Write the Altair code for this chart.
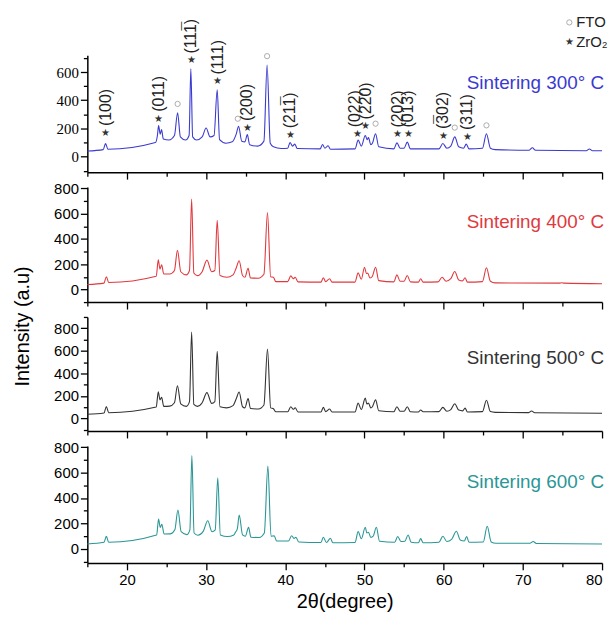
import altair as alt
import pandas as pd

# ---------------- data ----------------
two_theta_300 = [15.0, 17.0, 17.3, 17.6, 23.6, 23.85, 24.0, 24.2, 24.37, 24.6, 25.3, 26.0, 26.4, 26.75,
                 27.4, 27.85, 28.07, 28.3, 28.8, 29.5, 30.0, 30.5, 31.0, 31.4, 31.7, 32.5, 33.3, 33.8,
                 34.1, 34.5, 34.9, 35.2, 35.5, 36.5, 37.3, 37.7, 38.1, 38.5, 39.5, 40.3, 40.6, 40.9,
                 41.2, 41.5, 44.4, 44.7, 45.0, 45.4, 45.7, 48.8, 49.2, 49.6, 50.1, 50.35, 50.5, 50.8,
                 51.0, 51.4, 51.8, 53.7, 54.1, 54.5, 55.0, 55.4, 55.8, 59.4, 59.9, 60.4, 60.9, 61.4,
                 61.9, 62.5, 62.85, 63.2, 64.9, 65.4, 65.9, 66.5, 70.8, 71.2, 71.6, 78.0, 78.4, 78.8, 80.0]
intensity_300 = [40, 50, 93, 52, 100, 150, 220, 160, 192, 125, 118, 150, 311, 140,
                 118, 150, 624, 140, 118, 140, 203, 140, 150, 474, 120, 95, 105, 160,
                 215, 110, 105, 156, 85, 75, 110, 650, 95, 70, 58, 60, 100, 75,
                 89, 58, 55, 86, 60, 77, 53, 55, 117, 75, 150, 120, 135, 85,
                 95, 163, 70, 55, 98, 60, 60, 103, 55, 55, 93, 60, 75, 140,
                 70, 60, 89, 55, 60, 163, 60, 50, 46, 63, 45, 42, 54, 42, 42]

two_theta_400 = [15.0, 17.1, 17.4, 17.7, 23.7, 23.96, 24.17, 24.38, 24.65, 25.4, 26.0, 26.38, 26.8,
                 27.5, 27.9, 28.17, 28.45, 28.9, 29.5, 30.1, 30.7, 31.1, 31.4, 31.75, 32.6, 33.4, 33.8,
                 34.17, 34.6, 34.9, 35.3, 35.6, 36.6, 37.3, 37.75, 38.15, 38.5, 38.8, 40.3, 40.7, 41.0,
                 41.25, 41.6, 44.5, 44.8, 45.1, 45.6, 45.9, 48.8, 49.2, 49.6, 50.0, 50.25, 50.4, 50.7,
                 51.0, 51.4, 51.8, 53.7, 54.1, 54.5, 55.0, 55.4, 55.8, 56.8, 57.1, 57.4, 59.3, 59.8,
                 60.3, 60.9, 61.4, 61.9, 62.4, 62.7, 63.0, 64.9, 65.4, 65.9, 66.5, 74.6, 74.9, 75.2, 80.0]
intensity_400 = [39, 50, 101, 55, 104, 234, 161, 195, 122, 122, 150, 310, 140,
                 115, 150, 716, 130, 109, 140, 232, 140, 150, 547, 110, 96, 115, 170,
                 227, 110, 96, 167, 91, 89, 120, 609, 100, 96, 62, 62, 107, 85,
                 96, 60, 58, 92, 62, 84, 58, 58, 131, 80, 176, 125, 129, 90,
                 105, 176, 70, 60, 115, 65, 65, 110, 60, 58, 84, 58, 60, 97,
                 65, 85, 142, 75, 68, 92, 58, 62, 171, 65, 52, 50, 53, 50, 45]

two_theta_500 = [15.0, 17.1, 17.4, 17.7, 23.7, 23.96, 24.17, 24.38, 24.65, 25.4, 26.0, 26.38, 26.8,
                 27.5, 27.9, 28.17, 28.45, 28.9, 29.5, 30.1, 30.7, 31.1, 31.4, 31.75, 32.6, 33.4, 33.8,
                 34.17, 34.6, 34.9, 35.3, 35.6, 36.6, 37.3, 37.75, 38.15, 38.5, 38.8, 40.3, 40.7, 41.0,
                 41.25, 41.6, 44.5, 44.8, 45.1, 45.6, 45.9, 48.8, 49.2, 49.6, 50.1, 50.3, 50.5, 50.8,
                 51.0, 51.4, 51.8, 53.7, 54.1, 54.5, 55.0, 55.4, 55.8, 56.8, 57.1, 57.4, 59.4, 59.9,
                 60.4, 60.9, 61.4, 61.9, 62.4, 62.7, 63.0, 64.9, 65.4, 65.9, 66.5, 70.7, 71.1, 71.5, 80.0]
intensity_500 = [38, 49, 107, 52, 102, 238, 166, 189, 108, 110, 140, 291, 130,
                 108, 150, 767, 125, 108, 140, 230, 135, 150, 596, 105, 95, 115, 175,
                 235, 105, 95, 177, 90, 85, 120, 616, 95, 87, 60, 60, 105, 82,
                 96, 58, 58, 99, 62, 85, 58, 58, 137, 80, 181, 130, 137, 95,
                 105, 166, 70, 60, 105, 65, 65, 105, 60, 58, 76, 60, 62, 99,
                 65, 80, 131, 75, 68, 93, 58, 62, 163, 62, 55, 53, 67, 52, 47]

two_theta_600 = [15.0, 17.1, 17.4, 17.7, 23.75, 24.0, 24.2, 24.4, 24.7, 25.5, 26.05, 26.44, 26.85,
                 27.55, 27.95, 28.2, 28.48, 28.95, 29.65, 30.2, 30.75, 31.15, 31.47, 31.8, 32.7, 33.5,
                 33.7, 33.95, 34.18, 34.6, 34.95, 35.36, 35.66, 36.7, 37.35, 37.8, 38.2, 38.6, 38.9,
                 40.4, 40.8, 41.1, 41.34, 41.7, 44.5, 44.8, 45.2, 45.7, 46.0, 48.8, 49.2, 49.6, 50.1,
                 50.3, 50.5, 50.8, 51.1, 51.5, 51.9, 53.8, 54.2, 54.6, 55.1, 55.5, 55.9, 56.8, 57.1,
                 57.4, 59.4, 59.9, 60.4, 61.0, 61.6, 62.1, 62.6, 62.9, 63.2, 65.0, 65.5, 66.0, 66.6,
                 70.9, 71.3, 71.7, 80.0]
intensity_600 = [39, 52, 99, 52, 109, 234, 169, 193, 117, 118, 150, 305, 135,
                 112, 150, 734, 125, 108, 140, 221, 135, 150, 560, 110, 97, 110,
                 130, 160, 266, 110, 100, 169, 92, 90, 125, 651, 100, 104, 62,
                 62, 104, 82, 91, 55, 50, 92, 50, 84, 48, 50, 136, 80, 170,
                 125, 131, 90, 100, 170, 60, 52, 97, 58, 60, 110, 52, 48, 81,
                 48, 52, 100, 58, 75, 139, 70, 62, 97, 52, 55, 178, 55, 45,
                 44, 58, 43, 39]

# ZrO2 reflections (stars) marked on the 300 °C pattern
star_two_theta = [17.3, 24.0, 28.1, 31.4, 35.2, 40.6, 49.15, 50.15, 54.2, 55.5, 59.93, 63.0]
star_intensity = [168, 269, 682, 533, 203, 152, 159, 215, 157, 157, 147, 140]
label_two_theta = [17.3, 24.05, 28.15, 31.45, 35.2, 40.6, 48.75, 50.15, 54.2, 55.5, 59.93, 63.0]
star_labels = ["(100)", "(011)", "(111)", "(111)", "(200)", "(211)",
               "(022)", "(220)", "(202)", "(013)", "(302)", "(311)"]
# Miller indices carrying an overbar: label, and which character of it is barred
bar_label_index = [2, 5, 10]
bar_char_pos = [3, 3, 1]

# FTO reflections (open circles)
fto_two_theta = [26.4, 34.0, 37.7, 51.4, 61.4, 65.4]
fto_intensity = [374, 269, 713, 234, 206, 222]

legend_texts = ["FTO", "ZrO\u2082"]

series_names = ["Sintering 300\u00b0 C", "Sintering 400\u00b0 C", "Sintering 500\u00b0 C", "Sintering 600\u00b0 C"]
series_colors = ["#3a3ad0", "#e0393e", "#333333", "#2a9696"]

# ---------------- layout / style ----------------
W = 519
HEIGHTS = [118, 116, 115, 118]
Y_DOMAINS = [[-110, 720], [-100, 810], [-110, 900], [-110, 810]]
Y_TOPS = [700, 800, 900, 800]
LABEL_Y = [28, 35, 41, 36]
SANS = "Liberation Sans"
LABEL_FS = 16
LABEL_GAP = 7

x_vals = list(range(15, 81, 5))


def major_size(step, big, small):
    return {"condition": {"test": f"datum.value % {step} === 0", "value": big}, "value": small}


def x_axis(show_labels):
    kw = dict(values=x_vals, grid=False, domainColor="black", domainWidth=1.5,
              tickColor="black", tickWidth=1.3, tickSize=major_size(10, 7, 4))
    if show_labels:
        kw.update(labelExpr="datum.value % 10 === 0 ? datum.label : ''", labelFont=SANS,
                  labelFontSize=15, labelColor="black", labelPadding=3,
                  title="2\u03b8(degree)", titleFont=SANS, titleFontSize=20,
                  titleFontWeight="normal", titleColor="black", titlePadding=4)
    else:
        kw.update(labels=False, title=None)
    return alt.Axis(**kw)


def y_axis(top, serif=False, with_title=False):
    kw = dict(values=list(range(-100, top + 1, 100)), grid=False,
              labelExpr="datum.value % 200 === 0 ? datum.label : ''",
              labelFont="Liberation Serif" if serif else SANS, labelFontSize=15,
              labelColor="black", labelPadding=2,
              domainColor="black", domainWidth=1.5, tickColor="black", tickWidth=1.3,
              tickSize=major_size(200, 7, 4))
    if with_title:
        kw.update(title="Intensity (a.u)", titleFont=SANS, titleFontSize=20,
                  titleFontWeight="normal", titleColor="black", titleAngle=270,
                  titleX=-65, titleY=9, titleAlign="center", titleBaseline="middle")
    else:
        kw.update(title=None)
    return alt.Axis(**kw)


def encodings(i, show_x_labels=False, serif=False, with_title=False):
    xenc = alt.X("two_theta:Q", scale=alt.Scale(domain=[15, 80], nice=False, zero=False),
                 axis=x_axis(show_x_labels))
    yenc = alt.Y("intensity:Q", scale=alt.Scale(domain=Y_DOMAINS[i], nice=False, zero=False),
                 axis=y_axis(Y_TOPS[i], serif, with_title))
    return xenc, yenc


def panel(i, xs, ys, xenc, yenc, extra=None):
    df = pd.DataFrame({"two_theta": xs, "intensity": ys})
    line = alt.Chart(df).mark_line(color=series_colors[i], strokeWidth=1.1,
                                   interpolate="monotone").encode(x=xenc, y=yenc)
    lab = alt.Chart(pd.DataFrame({"t": [series_names[i]]})).mark_text(
        align="right", baseline="middle", font=SANS, fontSize=19,
        color=series_colors[i]).encode(text="t:N", x=alt.value(W + 2), y=alt.value(LABEL_Y[i]))
    layers = [line, lab]
    if extra:
        layers += extra
    return alt.layer(*layers).properties(width=W, height=HEIGHTS[i])


# ---------------- panel 1 with annotations ----------------
x1, y1 = encodings(0, serif=True)

stars_df = pd.DataFrame({"two_theta": star_two_theta, "intensity": star_intensity})
labels_df = pd.DataFrame({"two_theta": label_two_theta, "intensity": star_intensity,
                          "lab": star_labels})
fto_df = pd.DataFrame({"two_theta": fto_two_theta, "intensity": fto_intensity})

stars = alt.Chart(stars_df).mark_text(text="\u2605", fontSize=10, color="#333333",
                                      baseline="middle", align="center").encode(x=x1, y=y1)
# for rotated text the dx offset runs along the text direction (upwards on screen)
labels = alt.Chart(labels_df).mark_text(angle=270, align="left", baseline="middle",
                                        dx=LABEL_GAP, font=SANS, fontSize=LABEL_FS,
                                        color="#222222").encode(x=x1, y=y1, text="lab:N")
circles = alt.Chart(fto_df).mark_point(shape="circle", filled=False, size=28, color="#8a8a8a",
                                       strokeWidth=1).encode(x=x1, y=y1)

# overbars: a macron drawn over the barred digit of the rotated label
bar_layers = []
for li, cp in zip(bar_label_index, bar_char_pos):
    lab = star_labels[li]
    # Liberation Sans advance widths: "(" 0.333 em, digits 0.556 em
    prefix = sum(0.333 if c in "()" else 0.556 for c in lab[:cp]) * LABEL_FS
    centre = prefix + 0.556 * LABEL_FS / 2
    bdf = pd.DataFrame({"two_theta": [label_two_theta[li]], "intensity": [star_intensity[li]]})
    bar_layers.append(alt.Chart(bdf).mark_text(
        text="\u00af", angle=270, align="center", baseline="middle",
        dx=LABEL_GAP + centre, dy=-2, font=SANS, fontSize=LABEL_FS,
        color="#222222").encode(x=x1, y=y1))

leg_fto = alt.Chart(pd.DataFrame({"t": [legend_texts[0]]})).mark_text(
    align="left", baseline="middle", font=SANS, fontSize=15, color="#222222").encode(
    text="t:N", x=alt.value(493), y=alt.value(-33))
leg_zr = alt.Chart(pd.DataFrame({"t": [legend_texts[1]]})).mark_text(
    align="left", baseline="middle", font=SANS, fontSize=15, color="#222222").encode(
    text="t:N", x=alt.value(493), y=alt.value(-13))
leg_circle = alt.Chart(pd.DataFrame({"k": [0]})).mark_point(
    shape="circle", filled=False, size=28, color="#8a8a8a", strokeWidth=1).encode(
    x=alt.value(486), y=alt.value(-33))
leg_star = alt.Chart(pd.DataFrame({"k": [0]})).mark_text(
    text="\u2605", fontSize=10, color="#333333", baseline="middle", align="center").encode(
    x=alt.value(486), y=alt.value(-13))

p1 = panel(0, two_theta_300, intensity_300, x1, y1,
           extra=[circles, stars, labels] + bar_layers + [leg_circle, leg_star, leg_fto, leg_zr])

x2, y2 = encodings(1)
p2 = panel(1, two_theta_400, intensity_400, x2, y2)
x3, y3 = encodings(2, with_title=True)
p3 = panel(2, two_theta_500, intensity_500, x3, y3)
x4, y4 = encodings(3, show_x_labels=True)
p4 = panel(3, two_theta_600, intensity_600, x4, y4)

chart = alt.vconcat(p1, p2, p3, p4, spacing=15, bounds="flush",
                    padding={"left": 4, "top": 5, "right": 0, "bottom": 2}).resolve_scale(
    y="independent", x="independent").configure_view(stroke=None)

chart.save("out.html", embed_options={"renderer": "svg", "actions": False})
